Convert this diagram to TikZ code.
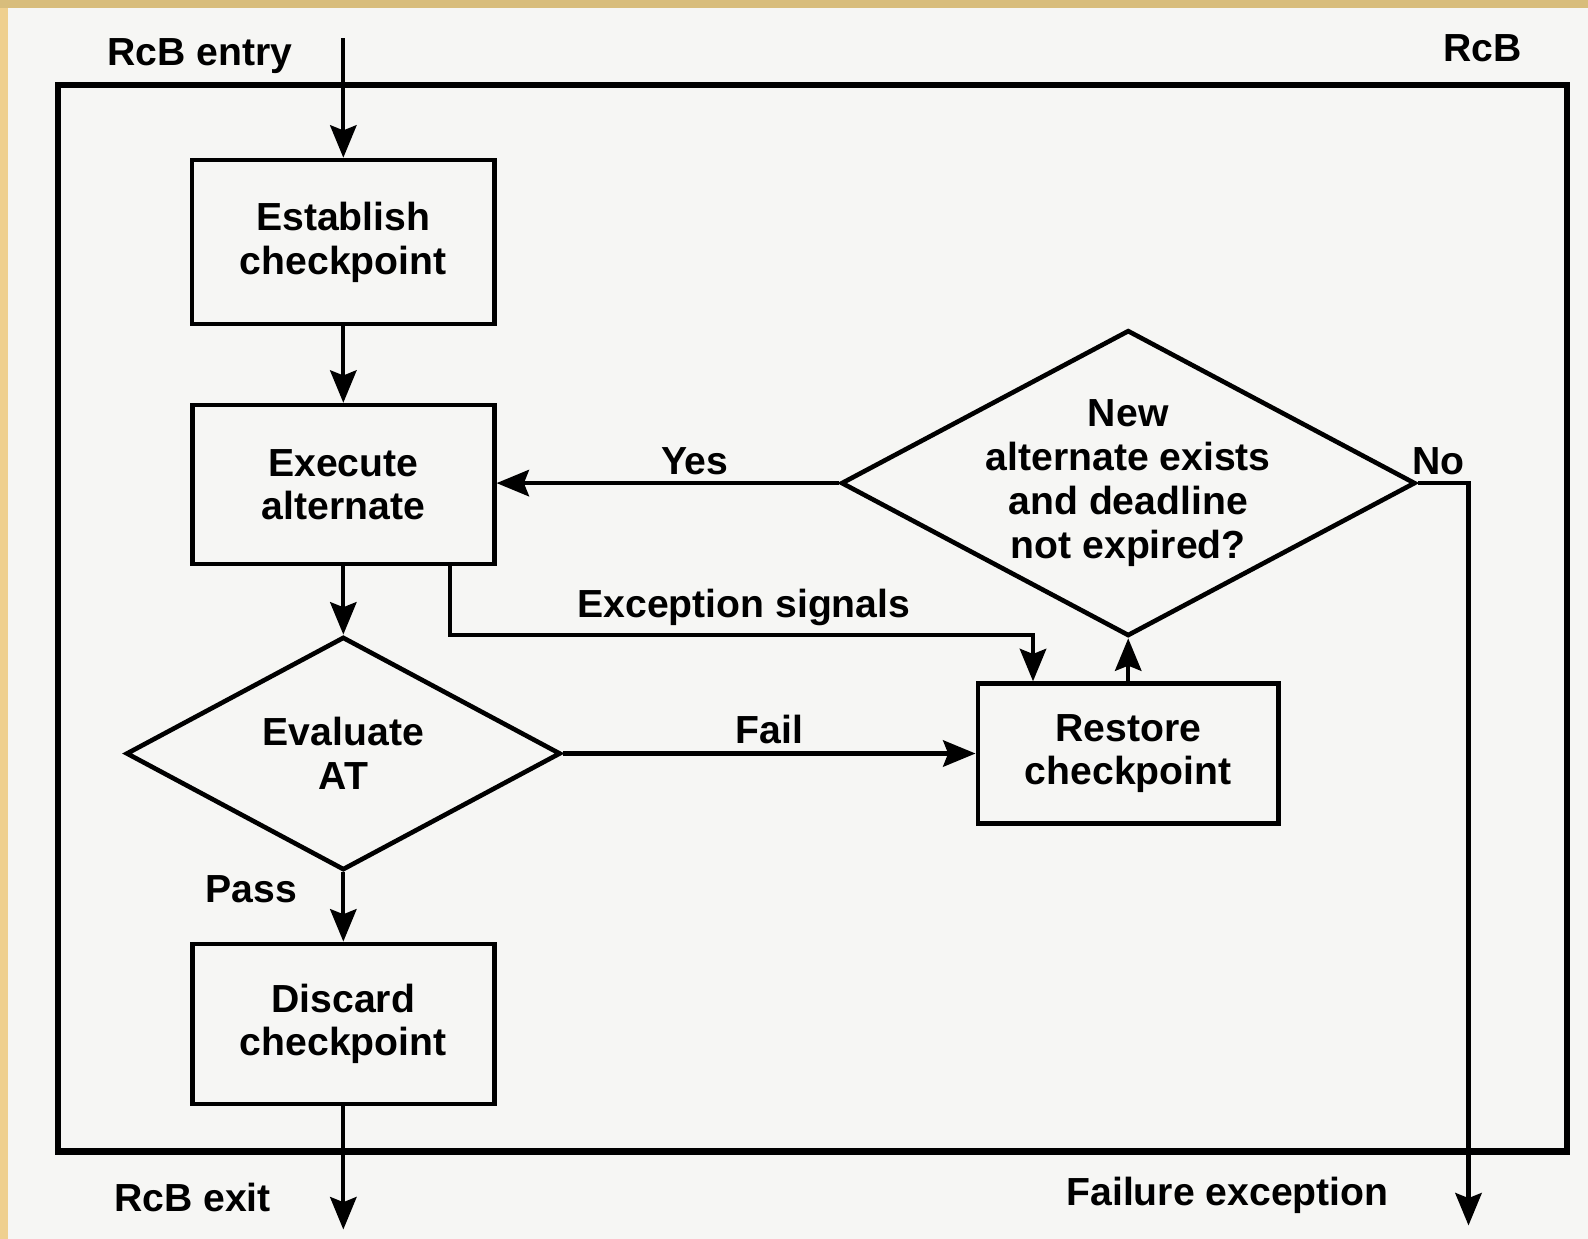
\documentclass[tikz,border=0pt]{standalone}
\usepackage{fontspec}
\setmainfont{Liberation Sans}
\usetikzlibrary{arrows.meta, positioning}
\usetikzlibrary{shapes.geometric}
\usetikzlibrary{calc}
\definecolor{paper}{HTML}{F6F6F4}
\definecolor{tantop}{HTML}{D8BD7C}
\definecolor{tanleft}{HTML}{EFD08F}

\begin{document}
\begin{tikzpicture}[every node/.style={font=\fontsize{11}{12.3}\selectfont\bfseries, align=center},
        block/.style={draw, line width=1.3pt, inner sep=0mm},
        decision/.style={draw, diamond, line width=1.3pt, inner sep=0mm},
        flow/.style={line width=1.2pt},
        >={Stealth[length=3.2mm, width=2.6mm, inset=0.5mm]}]
        \useasboundingbox (0,0) rectangle (15.68,-12.23);
        \fill[paper] (0,0) rectangle (15.68,-12.23);
        \fill[tantop] (0,0) rectangle (15.68,-0.08);
        \fill[tanleft] (0,-0.08) rectangle (0.08,-12.23);
        % recovery block frame
        \draw[line width=1.8pt] (0.57,-0.84) rectangle (15.47,-11.37);
        \node at (14.64,-0.48) (rcb) {RcB};
        \node at (1.975,-0.55) (entrylbl) {RcB entry};
        \node at (1.9,-11.82) (exitlbl) {RcB exit};
        \coordinate (entry) at (3.39,-0.38);
        \coordinate (exit) at (3.39,-12.14);
        % left column
        \node[block, minimum width=2.99cm, minimum height=1.62cm] at (3.39,-2.39) (establish) {Establish\\checkpoint};
        \node[block, minimum width=2.98cm, minimum height=1.57cm] at (3.39,-4.785) (execute) {Execute\\alternate};
        \node[decision, minimum width=4.29cm, minimum height=2.22cm] at (3.39,-7.44) (evaluate) {Evaluate\\AT};
        \node[block, minimum width=2.98cm, minimum height=1.58cm] at (3.39,-10.11) (discard) {Discard\\checkpoint};
        % right column
        \node[block, minimum width=2.97cm, minimum height=1.38cm] at (11.14,-7.44) (restore) {Restore\\checkpoint};
        \node[decision, minimum width=5.67cm, minimum height=3.02cm] at (11.14,-4.77) (newalt) {};
        \node at (newalt) (newalttxt) {New\\alternate exists\\and deadline\\not expired?};
        \coordinate (bend) at (10.2,-6.27);
        \coordinate (fail) at (14.5,-12.1);
        % connectors
        \draw[flow, ->] (entry) -- (establish.north);
        \draw[flow, ->] (establish) -- (execute);
        \draw[flow, ->] (execute) -- (evaluate);
        \draw[flow, ->] (evaluate) -- (discard);
        \draw[flow, ->] (discard) -- (exit);
        \draw[flow, ->] (evaluate.east) -- (restore.west);
        \draw[flow, ->] (restore) -- (newalt.south);
        \draw[flow, ->] (newalt.west) -- (newalt.west -| execute.east);
        \draw[flow, ->] ([xshift=1.05cm]execute.south) |- (bend) -- (bend |- restore.north);
        \draw[flow, ->] (newalt.east) -| (fail);
        % labels
        \node at (2.48,-8.78) (passlbl) {Pass};
        \node at (7.6,-7.2) (faillbl) {Fail};
        \node at (6.86,-4.55) (yeslbl) {Yes};
        \node at (14.2,-4.55) (nolbl) {No};
        \node at (7.345,-6.0) (exclbl) {Exception signals};
        \node at (12.12,-11.8) (failurelbl) {Failure exception};
    \end{tikzpicture}
\end{document}
